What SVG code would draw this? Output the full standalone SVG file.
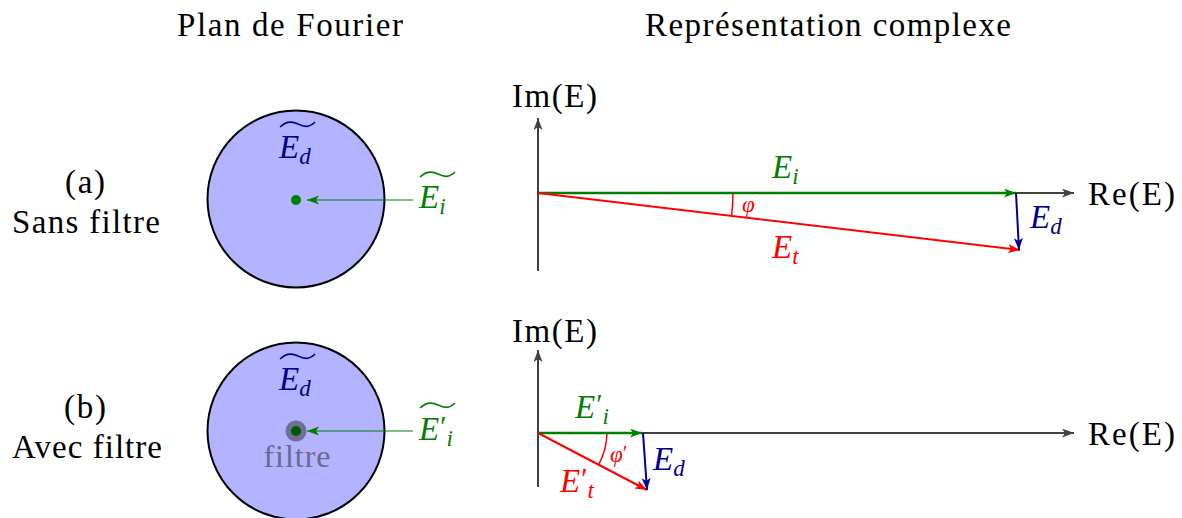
<svg xmlns="http://www.w3.org/2000/svg" width="1182" height="518" viewBox="0 0 1182 518">
<style>
text{font-family:"Liberation Serif","DejaVu Serif",serif;}
.t{font-size:33px;fill:#000;}
.m{font-style:italic;font-size:33px;}
.s{font-style:italic;font-size:23px;}
.p{font-style:normal;font-size:29px;}
.g{fill:#008000;}
.b{fill:#00008b;}
.r{fill:#ff0000;}
.ax{stroke:#404040;stroke-width:2;fill:none;}
.tl{fill:none;stroke-width:1.6;}
</style>
<defs>
<marker id="ak" markerUnits="userSpaceOnUse" markerWidth="14" markerHeight="10" refX="12" refY="4.5" orient="auto"><path d="M0,0 L12,4.5 L0,9 L3,4.5 z" fill="#404040"/></marker>
<marker id="ag" markerUnits="userSpaceOnUse" markerWidth="14" markerHeight="10" refX="12" refY="4.5" orient="auto"><path d="M0,0 L12,4.5 L0,9 L3,4.5 z" fill="#008000"/></marker>
<marker id="ar" markerUnits="userSpaceOnUse" markerWidth="14" markerHeight="10" refX="12" refY="4.5" orient="auto"><path d="M0,0 L12,4.5 L0,9 L3,4.5 z" fill="#ff0000"/></marker>
<marker id="ab" markerUnits="userSpaceOnUse" markerWidth="14" markerHeight="10" refX="12" refY="4.5" orient="auto"><path d="M0,0 L12,4.5 L0,9 L3,4.5 z" fill="#00008b"/></marker>
</defs>

<g id="titles">
<text class="t" x="290" y="36" text-anchor="middle" textLength="226">Plan de Fourier</text>
<text class="t" x="828" y="36" text-anchor="middle" textLength="366">Représentation complexe</text>
<text class="t" x="85" y="193" text-anchor="middle" textLength="40">(a)</text>
<text class="t" x="86" y="233" text-anchor="middle" textLength="148">Sans filtre</text>
<text class="t" x="85" y="418" text-anchor="middle" textLength="42">(b)</text>
<text class="t" x="87" y="458" text-anchor="middle" textLength="150">Avec filtre</text>
</g>

<g id="fourier-a">
<circle cx="296" cy="199" r="88.5" fill="#b3b3ff" stroke="#000" stroke-width="2"/>
<circle cx="296" cy="200" r="5" fill="#008000"/>
<text class="m b" x="279" y="158">E<tspan class="s" dy="6">d</tspan></text>
<path class="tl" stroke="#00008b" d="M280,127 C286,121 292,121 298,124 C304,127 309,128 315,122"/>
<text class="m g" x="419" y="208">E<tspan class="s" dy="6">i</tspan></text>
<path class="tl" stroke="#008000" d="M420,177 C426,171 432,171 438,174 C444,177 449,178 455,172"/>
</g>

<g id="fourier-b">
<circle cx="296" cy="431" r="88.5" fill="#b3b3ff" stroke="#000" stroke-width="2"/>
<circle cx="296" cy="431" r="10.5" fill="#6f6f96"/>
<circle cx="296" cy="431" r="5" fill="#005a00"/>
<text x="297" y="467" text-anchor="middle" textLength="67" style="font-size:32px;fill:#6a6a8c">filtre</text>
<text class="m b" x="279" y="390">E<tspan class="s" dy="6">d</tspan></text>
<path class="tl" stroke="#00008b" d="M280,359 C286,353 292,353 298,356 C304,359 309,360 315,354"/>
<text class="m g" x="419" y="440">E<tspan class="p" dx="1" dy="-4">′</tspan><tspan class="s" dy="10">i</tspan></text>
<path class="tl" stroke="#008000" d="M420,408 C426,402 432,402 438,405 C444,408 449,409 455,403"/>
</g>

<g id="complex-a">
<text class="t" x="512" y="107" textLength="85">Im(E)</text>
<text class="t" x="1088" y="205" textLength="87">Re(E)</text>
<path d="M733,193 A195,195 0 0 1 731.6,216" fill="none" stroke="#ff0000" stroke-width="1.5"/>
<text class="s r" x="742" y="212" style="font-size:23px">φ</text>
<text class="m g" x="772" y="178">E<tspan class="s" dy="6">i</tspan></text>
<text class="m r" x="772" y="258">E<tspan class="s" dy="6">t</tspan></text>
<text class="m b" x="1030" y="228">E<tspan class="s" dy="6">d</tspan></text>
</g>

<g id="complex-b">
<text class="t" x="512" y="342" textLength="85">Im(E)</text>
<text class="t" x="1088" y="445" textLength="87">Re(E)</text>
<path d="M607,433 A69,69 0 0 1 599,464" fill="none" stroke="#ff0000" stroke-width="1.5"/>
<text class="s r" x="610" y="462" style="font-size:23px">φ<tspan dy="-2" style="font-style:normal;font-size:21px">′</tspan></text>
<text class="m g" x="575" y="418">E<tspan class="p" dx="1" dy="-4">′</tspan><tspan class="s" dy="10">i</tspan></text>
<text class="m r" x="560" y="492">E<tspan class="p" dx="1" dy="-4">′</tspan><tspan class="s" dy="10">t</tspan></text>
<text class="m b" x="653" y="470">E<tspan class="s" dy="6">d</tspan></text>
</g>

<g id="connectors">
<line x1="413" y1="200" x2="307" y2="200" stroke="#008000" stroke-width="1.2" marker-end="url(#ag)"/>
<line x1="413" y1="431" x2="307" y2="431" stroke="#008000" stroke-width="1.2" marker-end="url(#ag)"/>
<line class="ax" x1="538" y1="271" x2="538" y2="118" marker-end="url(#ak)"/>
<line class="ax" x1="538" y1="193" x2="1074" y2="193" marker-end="url(#ak)"/>
<line x1="538" y1="193" x2="1016" y2="193" stroke="#008000" stroke-width="2.4" marker-end="url(#ag)"/>
<line x1="538" y1="193" x2="1020" y2="250" stroke="#ff0000" stroke-width="2" marker-end="url(#ar)"/>
<line x1="1016" y1="193" x2="1019" y2="250" stroke="#00008b" stroke-width="2" marker-end="url(#ab)"/>
<line class="ax" x1="538" y1="487" x2="538" y2="350" marker-end="url(#ak)"/>
<line class="ax" x1="538" y1="433" x2="1074" y2="433" marker-end="url(#ak)"/>
<line x1="538" y1="433" x2="642" y2="433" stroke="#008000" stroke-width="2.4" marker-end="url(#ag)"/>
<line x1="538" y1="433" x2="647" y2="490" stroke="#ff0000" stroke-width="2" marker-end="url(#ar)"/>
<line x1="643" y1="433" x2="647" y2="490" stroke="#00008b" stroke-width="2" marker-end="url(#ab)"/>
</g>
</svg>
